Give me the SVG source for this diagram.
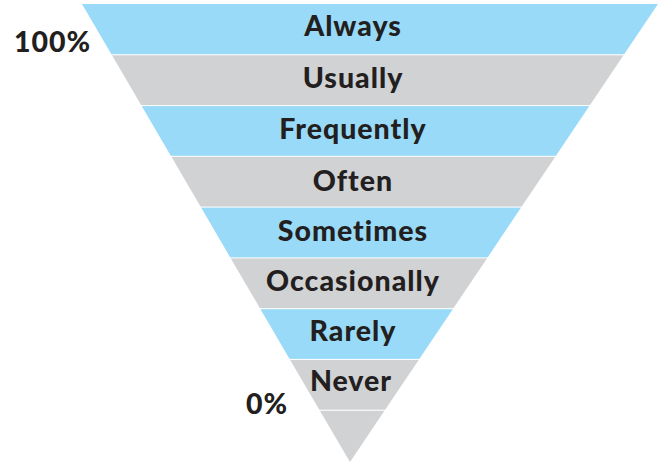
<svg xmlns="http://www.w3.org/2000/svg" width="665" height="462" viewBox="0 0 665 462">
<style>
.b{fill:#99DAF8}
.g{fill:#D1D2D4}
.sep{stroke:#FFFFFF;stroke-width:1;fill:none}
text{font-family:Lato,"Liberation Sans",sans-serif;font-weight:900;font-size:28.5px;letter-spacing:1px;fill:#231F20;text-anchor:middle}
.p{text-anchor:start}
</style>
<rect width="665" height="462" fill="#FFFFFF"/>
<g id="bands">
<g id="always"><polygon class="b" points="82,4 658,4 623.8,54.8 111.7,54.8"/><text x="353" y="36">Always</text></g>
<g id="usually"><polygon class="g" points="111.7,54.8 623.8,54.8 589.7,105.6 141.4,105.6"/><text x="353" y="88">Usually</text></g>
<g id="frequently"><polygon class="b" points="141.4,105.6 589.7,105.6 555.6,156.3 171.1,156.3"/><text x="353" y="139">Frequently</text></g>
<g id="often"><polygon class="g" points="171.1,156.3 555.6,156.3 521.4,207.1 200.8,207.1"/><text x="353" y="191">Often</text></g>
<g id="sometimes"><polygon class="b" points="200.8,207.1 521.4,207.1 487.3,257.9 230.5,257.9"/><text x="353" y="241">Sometimes</text></g>
<g id="occasionally"><polygon class="g" points="230.5,257.9 487.3,257.9 453.1,308.7 260.2,308.7"/><text x="353" y="291">Occasionally</text></g>
<g id="rarely"><polygon class="b" points="260.2,308.7 453.1,308.7 419,359.4 289.9,359.4"/><text x="353" y="341">Rarely</text></g>
<g id="never"><polygon class="g" points="289.9,359.4 419,359.4 384.8,410.2 319.6,410.2"/><text x="351" y="391">Never</text></g>
<g id="tip"><polygon class="g" points="319.6,410.2 384.8,410.2 350,462"/></g>
</g>
<g id="separators">
<line class="sep" x1="100" y1="54.8" x2="640" y2="54.8"/>
<line class="sep" x1="130" y1="105.6" x2="600" y2="105.6"/>
<line class="sep" x1="160" y1="156.3" x2="570" y2="156.3"/>
<line class="sep" x1="190" y1="207.1" x2="530" y2="207.1"/>
<line class="sep" x1="220" y1="257.9" x2="500" y2="257.9"/>
<line class="sep" x1="250" y1="308.7" x2="460" y2="308.7"/>
<line class="sep" x1="280" y1="359.4" x2="430" y2="359.4"/>
<line class="sep" x1="310" y1="410.2" x2="395" y2="410.2" stroke-width="0.6"/>
</g>
<g id="labels">
<text class="p" x="14" y="52">100%</text>
<text class="p" x="246" y="414">0%</text>
</g>
</svg>
